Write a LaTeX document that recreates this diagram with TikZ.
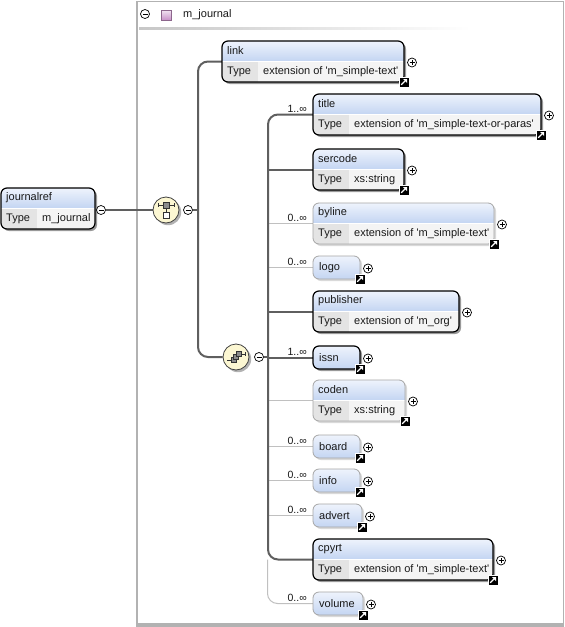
\documentclass[tikz,border=0pt]{standalone}
\usepackage{fontspec}
\setmainfont{Liberation Sans}
\usetikzlibrary{calc}
\pgfdeclarelayer{back}
\pgfdeclarelayer{bg}
\pgfsetlayers{back,bg,main}
\definecolor{hdtop}{RGB}{238,243,252}
\definecolor{hdbot}{RGB}{196,213,242}
\definecolor{typecol}{RGB}{228,228,228}
\definecolor{valcol}{RGB}{244,244,244}
\definecolor{mandc}{RGB}{95,95,95}
\definecolor{optc}{RGB}{192,192,192}
\definecolor{iconfill}{RGB}{252,247,210}
\definecolor{boxgray}{RGB}{178,178,178}
\newcommand{\myq}{\textquotesingle}
\tikzset{
 x=1pt,y=-1pt,
 lbl/.style={font=\fontsize{11}{13}\selectfont, inner sep=0pt, text=black!90},
 card/.style={font=\fontsize{10.5}{12}\selectfont, inner sep=0pt, anchor=south east, text=black!90},
 mandb/.style={draw=black, line width=1.2pt, rounded corners=6pt, inner sep=0pt, outer sep=0pt},
 optb/.style={draw=black!35, line width=0.8pt, rounded corners=6pt, inner sep=0pt, outer sep=0pt},
 mand/.style={draw=mandc, line width=2pt},
 opt/.style={draw=optc, line width=1pt},
 pm/.style={circle, draw=black, line width=0.7pt, fill=white, minimum size=9pt, inner sep=0pt},
 iconc/.style={circle, draw=black!75, line width=0.8pt, fill=iconfill, minimum size=26pt, inner sep=0pt},
}
\newcommand{\pmminus}[2]{\node[pm] (#1) at #2 {};
 \draw[line width=0.7pt] ($(#1.center)+(-2.5,0)$) -- ($(#1.center)+(2.5,0)$);}
\newcommand{\pmplus}[2]{\node[pm] (#1) at #2 {};
 \draw[line width=0.7pt] ($(#1.center)+(-2.5,0)$) -- ($(#1.center)+(2.5,0)$)
   ($(#1.center)+(0,-2.5)$) -- ($(#1.center)+(0,2.5)$);}
\newcommand{\lnk}[1]{\begin{scope}[shift={(#1)}]
 \fill[white] (-5.5,-5.5) rectangle (5.5,5.5);
 \fill[black] (-4.5,-4.5) rectangle (4.5,4.5);
 \draw[white,line width=1.1pt] (-2.8,2.8) -- (1.2,-1.2);
 \fill[white] (3,-3) -- (-1,-3) -- (3,1) -- cycle;
 \end{scope}}
% name, x, y, w, title, value, style, shadow
\newcommand{\twoel}[8]{%
 \fill[#8, rounded corners=6pt] ({#2+2},{#3+2}) rectangle ({#2+#4+2},{#3+43});
 \begin{scope}
 \clip[rounded corners=6pt] (#2,#3) rectangle ({#2+#4},{#3+41});
 \shade[top color=hdtop,bottom color=hdbot] (#2,#3) rectangle ({#2+#4},{#3+20});
 \fill[typecol] (#2,{#3+20}) rectangle ({#2+36},{#3+41});
 \fill[valcol] ({#2+36},{#3+20}) rectangle ({#2+#4},{#3+41});
 \end{scope}
 \draw[white, line width=0.6pt] (#2,{#3+20}) -- ({#2+#4},{#3+20});
 \node[#7, minimum width=#4pt, minimum height=41pt, anchor=north west] (#1) at (#2,#3) {};
 \node[lbl, anchor=west] at ({#2+5},{#3+10}) {#5};
 \node[lbl, anchor=west] at ({#2+5},{#3+31}) {Type};
 \node[lbl, anchor=west] at ({#2+41},{#3+31}) {#6};}
% name, x, y, w, title, style, shadow
\newcommand{\oneel}[7]{%
 \fill[#7, rounded corners=6pt] ({#2+2},{#3+2}) rectangle ({#2+#4+2},{#3+25});
 \node[#6, minimum width=#4pt, minimum height=23pt, anchor=north west,
   top color=hdtop, bottom color=hdbot] (#1) at (#2,#3) {};
 \node[lbl, anchor=west] at ({#2+6},{#3+11.5}) {#5};}

\begin{document}
\begin{tikzpicture}
\useasboundingbox (0,0) rectangle (565,627);
\begin{pgfonlayer}{back}
\fill[white] (0,0) rectangle (565,627);
\draw[boxgray, line width=1.2pt] (137,1.5) rectangle (563.5,624);
\fill[boxgray] (136.4,623) rectangle (564.1,626.5);
\shade[left color=black!22, right color=white] (139,27) rectangle (470,29);
\end{pgfonlayer}

% container header
\pmminus{hdmin}{(145,14)}
\node[draw=violet!50!black!60, line width=0.6pt, top color=violet!12, bottom color=violet!45,
  minimum size=10pt, inner sep=0pt] (hdsq) at (166,15.5) {};
\node[lbl, anchor=west] (hdtxt) at (183,15) {m\_journal};

% root
\twoel{journalref}{1}{188}{94}{journalref}{m\_journal}{mandb}{black!40}
\pmminus{jmin}{(101,210)}

% sequence compositor
\fill[black!30] (168,212) circle (13.2);
\node[iconc] (seq) at (166,210) {};
\begin{scope}[shift={(seq.center)}]
 \draw[black!80, line width=0.7pt] (-8,-5) -- (8,-5) (-8,-7) -- (-8,-3) (8,-7) -- (8,-3) (0,-2) -- (0,2);
 \draw[black!80, fill=black!45, line width=0.6pt] (-3,-8) rectangle (3,-2);
 \draw[black!80, fill=white, line width=0.6pt] (-3,2) rectangle (3,8);
\end{scope}
\pmminus{seqmin}{(188,210)}
\coordinate (spineA) at (198,0);

% choice compositor
\fill[black!30] (238,359) circle (13.2);
\node[iconc] (choice) at (236,357) {};
\begin{scope}[shift={(choice.center)}]
 \draw[black!80, line width=0.7pt] (-9,3) -- (-5,3) (5,-3) -- (9,-3) (9,-5) -- (9,-1);
 \draw[black!80, fill=black!45, line width=0.5pt] (-5,0.5) rectangle (0,5.5);
 \draw[black!80, fill=black!45, line width=0.5pt] (-2.5,-2.5) rectangle (2.5,2.5);
 \draw[black!80, fill=black!45, line width=0.5pt] (0,-5.5) rectangle (5,-0.5);
\end{scope}
\pmminus{chmin}{(259,357)}
\coordinate (spineB) at (268,0);

% elements
\twoel{link}{222}{41}{182}{link}{extension of \myq m\_simple-text\myq}{mandb}{black!40}
\twoel{title}{313}{94}{228}{title}{extension of \myq m\_simple-text-or-paras\myq}{mandb}{black!40}
\twoel{sercode}{313}{149}{91}{sercode}{xs:string}{mandb}{black!40}
\twoel{byline}{313}{203}{181}{byline}{extension of \myq m\_simple-text\myq}{optb}{black!15}
\oneel{logo}{313}{256}{47}{logo}{optb}{black!15}
\twoel{publisher}{313}{291}{146}{publisher}{extension of \myq m\_org\myq}{mandb}{black!40}
\oneel{issn}{313}{346}{47}{issn}{mandb}{black!40}
\twoel{coden}{313}{380}{92}{coden}{xs:string}{optb}{black!15}
\oneel{board}{313}{435}{47}{board}{optb}{black!15}
\oneel{info}{313}{469}{47}{info}{optb}{black!15}
\oneel{advert}{313}{504}{49}{advert}{optb}{black!15}
\twoel{cpyrt}{313}{539}{180}{cpyrt}{extension of \myq m\_simple-text\myq}{mandb}{black!40}
\oneel{volume}{313}{592}{50}{volume}{optb}{black!15}

% link icons
\foreach \n in {link,title,sercode,byline,logo,issn,coden,board,info,advert,cpyrt,volume}{
  \lnk{\n.south east}
}
% plus icons
\foreach \n in {link,title,sercode,byline,logo,publisher,issn,coden,board,info,advert,cpyrt,volume}{
  \pmplus{p\n}{($(\n.east)+(8,1)$)}
}

% cardinalities
\foreach \n/\c in {title/1..∞,byline/0..∞,logo/0..∞,issn/1..∞,board/0..∞,info/0..∞,advert/0..∞,volume/0..∞}{
  \node[card] at ($(\n.west)+(-6,-2)$) {\c};
}

% connectors
\begin{pgfonlayer}{bg}
\draw[mand] (jmin.east) -- (seq.west);
\draw[mand] (seqmin.east) -- (seqmin.east -| spineA);
\draw[mand, rounded corners=10pt] (link.west) -- (link.west -| spineA) -- (choice.west -| spineA) -- (choice.west);
\draw[mand] (chmin.east) -- (chmin.east -| spineB);
\foreach \n in {byline,logo,coden,board,info,advert}{
  \draw[opt] (\n.west -| spineB) -- (\n.west);
}
\draw[opt, rounded corners=10pt] ($(cpyrt.west -| spineB)+(-0.5,0)$) -- ($(volume.west -| spineB)+(-0.5,0)$) -- (volume.west);
\draw[mand, rounded corners=10pt] (title.west) -- (title.west -| spineB) -- (cpyrt.west -| spineB) -- (cpyrt.west);
\foreach \n in {sercode,publisher,issn}{
  \draw[mand] (\n.west -| spineB) -- (\n.west);
}
\end{pgfonlayer}
\end{tikzpicture}
\end{document}
